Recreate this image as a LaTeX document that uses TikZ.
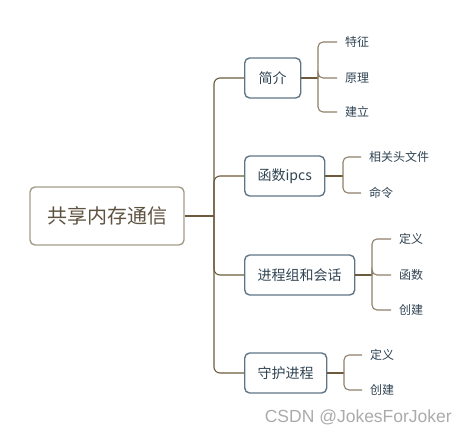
\documentclass[tikz,border=0pt]{standalone}
\usepackage{fontspec}
\setmainfont{Noto Sans CJK SC}
\newfontfamily\wmfont{Liberation Sans}
\usetikzlibrary{calc}
\definecolor{rootbd}{HTML}{A39C8A}
\definecolor{roottx}{HTML}{5E5240}
\definecolor{boxbd}{HTML}{5F7585}
\definecolor{boxtx}{HTML}{2F4352}
\definecolor{conn}{HTML}{6B5B3C}
\definecolor{leafln}{HTML}{8E8068}
\definecolor{wm}{HTML}{ABABAB}
\tikzset{
  rootbox/.style={draw=rootbd,line width=1.4pt,rounded corners=5pt,minimum width=154pt,minimum height=58pt,text=roottx,font=\fontsize{20}{20}\selectfont,inner sep=0pt},
  branchbox/.style={draw=boxbd,line width=1.4pt,rounded corners=5pt,minimum height=40pt,text=boxtx,font=\fontsize{14}{14}\selectfont,inner sep=0pt,anchor=west},
  leaf/.style={text=boxtx,font=\fontsize{12}{12}\selectfont,inner xsep=8pt,inner ysep=2pt,anchor=west},
  connline/.style={draw=conn,line width=1.1pt,rounded corners=6pt},
  leafline/.style={draw=leafln,line width=1.1pt,rounded corners=5pt},
}
\begin{document}
\begin{tikzpicture}[x=1pt,y=-1pt]
\useasboundingbox (0,0) rectangle (468,434);
\node[rootbox] (root) at (107,216) {共享内存通信};
\node[branchbox,minimum width=56pt] (b1) at (244,78) {简介};
\node[branchbox,minimum width=80pt] (b2) at (244,176) {函数ipcs};
\node[branchbox,minimum width=110pt] (b3) at (244,275) {进程组和会话};
\node[branchbox,minimum width=82pt] (b4) at (244,373) {守护进程};
\coordinate (j) at (214,216);
\draw[connline] (root.east) -- (j);
\foreach \b in {b1,b2,b3,b4} \draw[connline] (j) |- (\b.west);
% leaves of b1
\node[leaf] (l11) at (337,42) {特征};
\node[leaf] (l12) at (337,78) {原理};
\node[leaf] (l13) at (337,112) {建立};
\coordinate (j1) at (318,78);
\draw[connline] (b1.east) -- (j1);
\foreach \l in {l11,l12,l13} \draw[leafline] (j1) |- (\l.west);
% leaves of b2
\node[leaf] (l21) at (361,157) {相关头文件};
\node[leaf] (l22) at (361,193) {命令};
\coordinate (j2) at (343,176);
\draw[connline] (b2.east) -- (j2);
\foreach \l in {l21,l22} \draw[leafline] (j2) |- (\l.west);
% leaves of b3
\node[leaf] (l31) at (391,239) {定义};
\node[leaf] (l32) at (391,275) {函数};
\node[leaf] (l33) at (391,310) {创建};
\coordinate (j3) at (372,275);
\draw[connline] (b3.east) -- (j3);
\foreach \l in {l31,l32,l33} \draw[leafline] (j3) |- (\l.west);
% leaves of b4
\node[leaf] (l41) at (362,355) {定义};
\node[leaf] (l42) at (362,390) {创建};
\coordinate (j4) at (344,373);
\draw[connline] (b4.east) -- (j4);
\foreach \l in {l41,l42} \draw[leafline] (j4) |- (\l.west);
% watermark
\node[text=wm,font=\wmfont\fontsize{17.5}{17.5}\selectfont,anchor=east,inner sep=0pt] (wmk) at (452,417) {CSDN @JokesForJoker};
\end{tikzpicture}
\end{document}
